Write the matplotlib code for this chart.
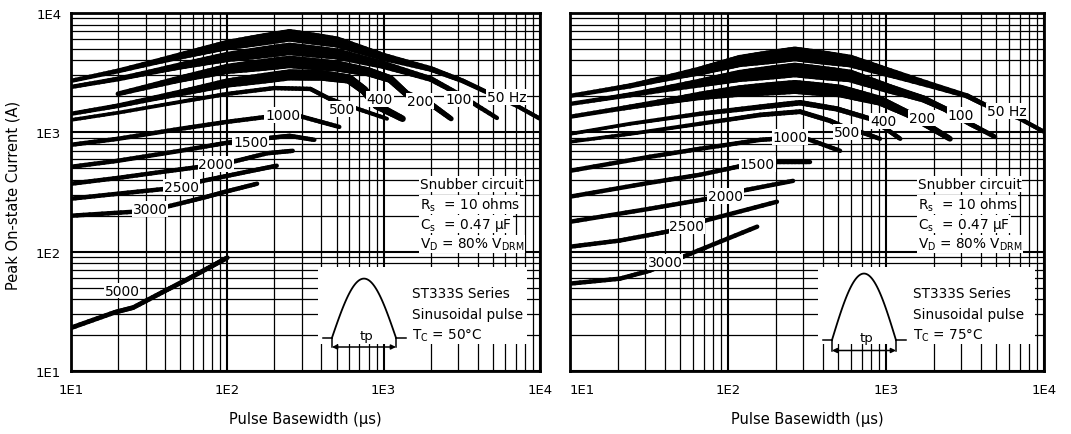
"""ST333S series: peak on-state current vs pulse basewidth (sinusoidal pulse).

Two panels, case temperature 50 C and 75 C, one curve per repetition
frequency, read off the scanned datasheet figure.
"""

import matplotlib

matplotlib.use("Agg")
import matplotlib.pyplot as plt
import numpy as np
from matplotlib.collections import LineCollection
from matplotlib.patches import Rectangle
from matplotlib.ticker import LogLocator, NullFormatter

plt.rcParams["font.family"] = ["DejaVu Sans"]
plt.rcParams["mathtext.default"] = "regular"

# ----------------------------------------------------------------------
# Axis decades
# ----------------------------------------------------------------------
DECADES = [10, 100, 1000, 10000]
DECADE_LABELS = ["1E1", "1E2", "1E3", "1E4"]

# ----------------------------------------------------------------------
# T_C = 50 C  (pulse basewidth in us, peak current in A)
# ----------------------------------------------------------------------
L50_x = [10, 20, 50, 100, 250, 500, 1000, 2000, 3200, 4400, 7100, 10000]
L50_y = [2700, 3270, 4370, 5390, 6500, 5720, 4280, 3400, 2700, 2220, 1670, 1300]
L100_x = [10, 20, 50, 100, 250, 500, 1000, 2000, 3000, 5300]
L100_y = [2400, 2800, 3600, 4280, 5000, 4540, 3670, 2800, 2100, 1320]
L200_x = [20, 50, 100, 250, 500, 800, 1100, 1400, 2000, 2700]
L200_y = [2100, 2800, 3400, 3890, 3600, 3210, 2800, 2100, 1730, 1300]
L400_x = [10, 20, 50, 100, 250, 400, 600, 750, 900, 1320]
L400_y = [1430, 1670, 2140, 2590, 3030, 3000, 2800, 2250, 1680, 1300]
L500_x = [10, 20, 50, 100, 200, 340, 450, 630, 1050]
L500_y = [1270, 1460, 1800, 2100, 2350, 2310, 1910, 1630, 1300]
L1000_x = [10, 20, 50, 100, 180, 290, 520]
L1000_y = [786, 883, 1070, 1225, 1350, 1370, 1110]
L1500_x = [10, 20, 50, 108, 190, 250, 360]
L1500_y = [514, 578, 700, 833, 900, 935, 865]
L2000_x = [10, 20, 40, 67, 108, 180, 262]
L2000_y = [371, 415, 470, 514, 566, 668, 700]
L2500_x = [10, 20, 41, 65, 100, 150, 207]
L2500_y = [278, 306, 337, 385, 432, 482, 525]
L3000_x = [10, 25, 41, 70, 100, 155]
L3000_y = [200, 216, 238, 283, 321, 371]
L5000_x = [10, 19, 25, 40, 56, 80, 100]
L5000_y = [23, 31, 34, 47, 59, 76, 89]

# ----------------------------------------------------------------------
# T_C = 75 C
# ----------------------------------------------------------------------
R50_x = [10, 24, 66.5, 119, 265, 592, 1230, 3260, 4110, 7050, 10000]
R50_y = [2020, 2450, 3270, 3960, 4540, 3960, 2970, 2020, 1730, 1300, 1010]
R100_x = [10, 24, 66.5, 119, 265, 592, 1060, 1715, 2360, 3400, 4900]
R100_y = [1730, 2060, 2590, 2970, 3330, 2970, 2310, 1910, 1570, 1180, 916]
R200_x = [10, 24, 66.5, 119, 265, 512, 916, 1380, 1900, 2540]
R200_y = [1350, 1630, 2020, 2220, 2400, 2220, 1840, 1430, 1110, 883]
R400_x = [10, 24, 66.5, 160, 286, 490, 792, 1000, 1230]
R400_y = [970, 1180, 1430, 1630, 1770, 1570, 1300, 1070, 883]
R500_x = [10, 24, 66.5, 160, 286, 442, 567, 685, 916]
R500_y = [833, 970, 1180, 1400, 1490, 1250, 1080, 1010, 883]
R1000_x = [10, 32, 66.5, 160, 247, 316, 512]
R1000_y = [476, 624, 728, 865, 900, 883, 700]
R1500_x = [10, 32, 66.5, 123, 193, 330]
R1500_y = [289, 378, 441, 525, 566, 566]
R2000_x = [10, 32, 75, 123, 258]
R2000_y = [178, 229, 278, 324, 392]
R2500_x = [10, 20.7, 41, 71.5, 204]
R2500_y = [110, 124, 147, 182, 262]
R3000_x = [10, 20.7, 32, 52, 153]
R3000_y = [54, 59.4, 69.3, 90.8, 162]

# frequency label text and where it sits (us, A)
LEFT_LABELS = [("50 Hz", 6110, 1980), ("100", 3010, 1910), ("200", 1700, 1840),
               ("400", 942, 1910), ("500", 540, 1570), ("1000", 226, 1400),
               ("1500", 141, 833), ("2000", 84.5, 545), ("2500", 51, 350),
               ("3000", 32, 229), ("5000", 21.2, 47.2)]
RIGHT_LABELS = [("50 Hz", 5840, 1510), ("100", 2980, 1400), ("200", 1690, 1320),
                ("400", 957, 1250), ("500", 567, 1010), ("1000", 247, 916),
                ("1500", 153, 545), ("2000", 96, 294), ("2500", 55, 165),
                ("3000", 40, 82)]

# (x, y, base width, width at the swollen middle)
LEFT_CURVES = [
    (L50_x, L50_y, 3.0, 9.0), (L100_x, L100_y, 3.0, 9.0), (L200_x, L200_y, 3.0, 9.0),
    (L400_x, L400_y, 3.0, 8.0), (L500_x, L500_y, 2.6, 3.2),
    (L1000_x, L1000_y, 3.2, 3.2), (L1500_x, L1500_y, 3.2, 3.2),
    (L2000_x, L2000_y, 3.2, 3.2), (L2500_x, L2500_y, 3.2, 3.2),
    (L3000_x, L3000_y, 3.2, 3.2), (L5000_x, L5000_y, 3.4, 3.4),
]
RIGHT_CURVES = [
    (R50_x, R50_y, 3.0, 10.5), (R100_x, R100_y, 3.0, 10.5), (R200_x, R200_y, 3.0, 10.0),
    (R400_x, R400_y, 2.6, 4.0), (R500_x, R500_y, 2.6, 3.5),
    (R1000_x, R1000_y, 3.2, 3.2), (R1500_x, R1500_y, 3.2, 3.2),
    (R2000_x, R2000_y, 3.2, 3.2), (R2500_x, R2500_y, 3.2, 3.2),
    (R3000_x, R3000_y, 3.2, 3.2),
]

W, H = 1071, 435


def draw_curve(ax, x, y, lw_base, lw_peak, centre=300.0, spread=0.7, steps=10):
    """Black curve whose width swells around `centre` like the scanned bands."""
    lx, ly = np.log10(x), np.log10(y)
    segs, widths = [], []
    for i in range(len(lx) - 1):
        t = np.linspace(0.0, 1.0, steps + 1)
        sx = lx[i] + (lx[i + 1] - lx[i]) * t
        sy = ly[i] + (ly[i + 1] - ly[i]) * t
        for j in range(steps):
            segs.append([(10 ** sx[j], 10 ** sy[j]), (10 ** sx[j + 1], 10 ** sy[j + 1])])
            mid = 0.5 * (sx[j] + sx[j + 1])
            swell = np.exp(-((mid - np.log10(centre)) / spread) ** 2)
            widths.append(lw_base + (lw_peak - lw_base) * swell)
    ax.add_collection(LineCollection(segs, linewidths=widths, colors="black",
                                     capstyle="round", joinstyle="round", zorder=3))


def setup_axes(ax, show_y):
    ax.set_xscale("log")
    ax.set_yscale("log")
    ax.set_xlim(10, 1e4)
    ax.set_ylim(10, 1e4)
    ax.set_xticks(DECADES, DECADE_LABELS)
    ax.set_yticks(DECADES, DECADE_LABELS)
    for axis in (ax.xaxis, ax.yaxis):
        axis.set_minor_locator(LogLocator(base=10, subs=np.arange(2, 10)))
        axis.set_minor_formatter(NullFormatter())
    ax.set_axisbelow(True)
    ax.grid(which="major", color="black", lw=1.5)
    ax.grid(which="minor", color="black", lw=0.9)
    ax.tick_params(which="both", length=0, labelsize=9.5)
    ax.tick_params(axis="x", pad=9)
    ax.tick_params(axis="y", pad=7, labelleft=show_y)
    for s in ax.spines.values():
        s.set_linewidth(2)


def pulse_icon(fig, left, top, width, height):
    """Small half-sine pulse sketch with the tp arrow."""
    ic = fig.add_axes([left / W, 1 - (top + height) / H, width / W, height / H])
    ic.set_xlim(0, 1)
    ic.set_ylim(0, 1)
    ic.axis("off")
    t = np.linspace(0, 1, 80)
    base, x0, x1 = 0.165, 0.13, 0.826
    ic.plot(x0 + (x1 - x0) * t, base + 0.74 * np.sin(np.pi * t), color="black", lw=1.3)
    ic.plot([0.03, x0], [base, base], color="black", lw=1.1)
    ic.plot([x1, 0.93], [base, base], color="black", lw=1.1)
    ic.plot([x0, x0], [0.05, base], color="black", lw=1.1)
    ic.plot([x1, x1], [0.05, base], color="black", lw=1.1)
    ic.annotate("", xy=(x0, 0.05), xytext=(x1, 0.05),
                arrowprops=dict(arrowstyle="<|-|>", color="black", lw=1.1,
                                shrinkA=0, shrinkB=0, mutation_scale=7))
    ic.text(0.5, 0.19, "tp", ha="center", va="center", fontsize=9.5)


def main():
    fig = plt.figure(figsize=(W / 100, H / 100), dpi=100)
    ax_l = fig.add_axes([71 / W, 63 / H, 469 / W, 358 / H])
    ax_r = fig.add_axes([570 / W, 63 / H, 474 / W, 358 / H])

    panels = [
        (ax_l, LEFT_CURVES, LEFT_LABELS, "50", 0.744, 0.727, (0.527, 0.445), 250.0),
        (ax_r, RIGHT_CURVES, RIGHT_LABELS, "75", 0.734, 0.724, (0.523, 0.458), 280.0),
    ]
    box = dict(fc="white", ec="none", pad=0.6)
    for ax, curves, labels, tc, snub_x, series_x, (rx, rw), centre in panels:
        setup_axes(ax, ax is ax_l)
        for x, y, lw0, lw1 in curves:
            draw_curve(ax, x, y, lw0, lw1, centre=centre)
        for text, lx, ly in labels:
            ax.text(lx, ly, text, ha="center", va="center", fontsize=10,
                    bbox=box, zorder=4)

        # white area behind the pulse sketch
        ax.add_patch(Rectangle((rx, 0.075), rw, 0.216, transform=ax.transAxes,
                               fc="white", ec="none", zorder=2))

        snub = ["Snubber circuit", "R$_s$  = 10 ohms", "C$_s$  = 0.47 µF",
                "V$_D$ = 80% V$_{DRM}$"]
        for k, s in enumerate(snub):
            ax.text(snub_x, 0.522 - 0.0557 * k, s, transform=ax.transAxes,
                    ha="left", va="center", fontsize=9.8, bbox=box, zorder=5)
        series = ["ST333S Series", "Sinusoidal pulse", f"T$_C$ = {tc}°C"]
        for k, s in enumerate(series):
            ax.text(series_x, 0.218 - 0.059 * k, s, transform=ax.transAxes,
                    ha="left", va="center", fontsize=9.8, bbox=box, zorder=5)

    ax_r.get_xticklabels()[0].set_ha("left")

    pulse_icon(fig, 320, 272, 92, 80)
    pulse_icon(fig, 820, 266, 92, 90)

    fig.text(13 / W, 1 - 195 / H, "Peak On-state Current (A)", rotation=90,
             ha="center", va="center", fontsize=10.5)
    fig.text(305 / W, 1 - 420 / H, "Pulse Basewidth (µs)", ha="center", va="center",
             fontsize=10.5)
    fig.text(807 / W, 1 - 420 / H, "Pulse Basewidth (µs)", ha="center", va="center",
             fontsize=10.5)

    fig.savefig("out.png", dpi=100)


if __name__ == "__main__":
    main()
